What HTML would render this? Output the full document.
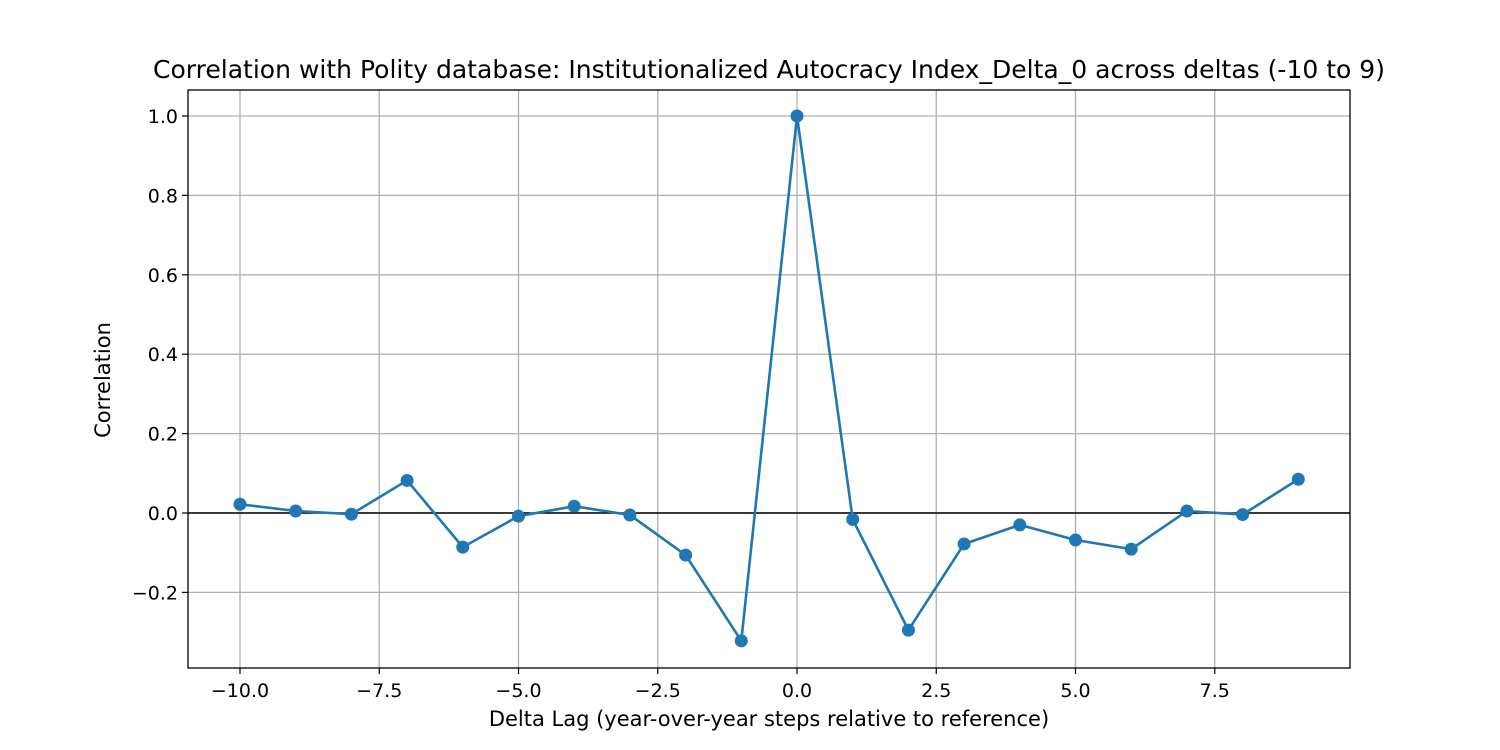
<!DOCTYPE html>
<html><head><meta charset="utf-8"><style>
body{margin:0;background:#fff;}
svg{display:block;font-family:"DejaVu Sans","Liberation Sans",sans-serif;}
</style></head><body>
<svg id="chart" width="1500" height="750" xmlns="http://www.w3.org/2000/svg">
<rect width="1500" height="750" fill="#fff"/>
<text x="769" y="78" font-size="25" text-anchor="middle" fill="#000" textLength="1232" lengthAdjust="spacingAndGlyphs">Correlation with Polity database: Institutionalized Autocracy Index_Delta_0 across deltas (-10 to 9)</text>
<g id="grid"></g>
<g id="ticks"></g>
<line id="zero" stroke="#000" stroke-width="1.5"/>
<polyline id="line" fill="none" stroke="#1f77b4" stroke-width="2.6"/>
<g id="points"></g>
<rect x="188" y="90" width="1162" height="578" fill="none" stroke="#000" stroke-width="1.3"/>
<text x="769" y="726" font-size="21" text-anchor="middle">Delta Lag (year-over-year steps relative to reference)</text>
<text x="110" y="380" font-size="21" text-anchor="middle" transform="rotate(-90 110 380)">Correlation</text>
</svg>
<script>
const deltas=[-10,-9,-8,-7,-6,-5,-4,-3,-2,-1,0,1,2,3,4,5,6,7,8,9];
const corr=[0.022,0.005,-0.003,0.082,-0.086,-0.008,0.017,-0.005,-0.106,-0.322,1.0,-0.016,-0.295,-0.078,-0.030,-0.068,-0.091,0.005,-0.004,0.085];
const xTicks=[-10,-7.5,-5,-2.5,0,2.5,5,7.5];
const xTickLabels=["\u221210.0","\u22127.5","\u22125.0","\u22122.5","0.0","2.5","5.0","7.5"];
const yTicks=[-0.2,0,0.2,0.4,0.6,0.8,1.0];
const yTickLabels=["\u22120.2","0.0","0.2","0.4","0.6","0.8","1.0"];
const L=188,R=1350,T=90,B=668;
const X=v=>240+(v+10)*55.7;
const Y=v=>513-v*397;
const NS="http://www.w3.org/2000/svg";
function mk(tag,attrs,parent){const e=document.createElementNS(NS,tag);for(const k in attrs)e.setAttribute(k,attrs[k]);parent.appendChild(e);return e;}
const grid=document.getElementById('grid'),ticks=document.getElementById('ticks');
xTicks.forEach((t,i)=>{
  const g=mk('line',{x1:X(t),x2:X(t),y1:T,y2:B,stroke:'#b0b0b0','stroke-width':1.3},grid);
  
  
  mk('line',{x1:X(t),x2:X(t),y1:B,y2:B+6,stroke:'#000','stroke-width':1.2},ticks);
  const tx=mk('text',{x:X(t),y:B+29,'font-size':19,'text-anchor':'middle'},ticks);
  tx.textContent=xTickLabels[i];
  
  
});
yTicks.forEach((t,i)=>{
  const g=mk('line',{x1:L,x2:R,y1:Y(t),y2:Y(t),stroke:'#b0b0b0','stroke-width':1.3},grid);
  
  
  mk('line',{x1:L-6,x2:L,y1:Y(t),y2:Y(t),stroke:'#000','stroke-width':1.2},ticks);
  const tx=mk('text',{x:L-10,y:Y(t)+7,'font-size':19,'text-anchor':'end'},ticks);
  tx.textContent=yTickLabels[i];
  
  
});
const z=document.getElementById('zero');
z.setAttribute('x1',L);z.setAttribute('x2',R);z.setAttribute('y1',Y(0));z.setAttribute('y2',Y(0));
document.getElementById('line').setAttribute('points',deltas.map((d,i)=>X(d)+','+Y(corr[i])).join(' '));
const pts=document.getElementById('points');
deltas.forEach((d,i)=>{
  const c=mk('circle',{cx:X(d),cy:Y(corr[i]),r:6.5,fill:'#1f77b4'},pts);
  
  
});
</script>
</body></html>
